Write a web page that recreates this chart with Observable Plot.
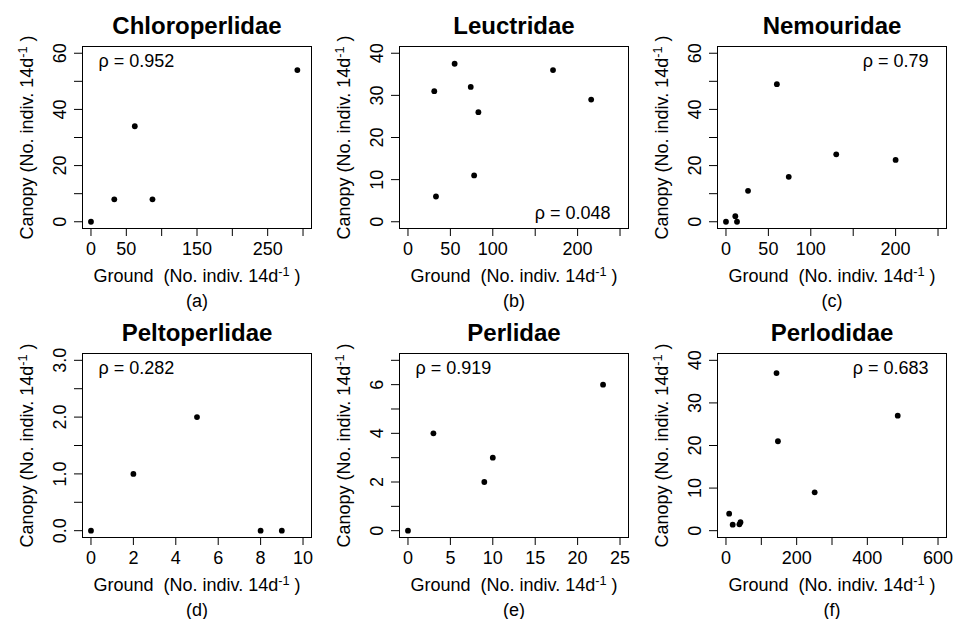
<!DOCTYPE html>
<html><head><meta charset="utf-8">
<script src="https://cdn.jsdelivr.net/npm/d3@7"></script>
<script src="https://cdn.jsdelivr.net/npm/@observablehq/plot@0.6"></script>
<style>
body{margin:0;background:#fff;}
#chart{position:relative;width:955px;height:619px;background:#fff;overflow:hidden;}
#chart svg{position:absolute;overflow:visible;}
</style></head><body><div id="chart"></div>
<script>
// ---- data ----
const families = ["Chloroperlidae","Leuctridae","Nemouridae","Peltoperlidae","Perlidae","Perlodidae"];
const panelLetters = ["(a)","(b)","(c)","(d)","(e)","(f)"];
const rhoValues = ["0.952","0.048","0.79","0.282","0.919","0.683"];
const rhoCorner = ["top-left","bottom-right","top-right","top-left","top-left","top-right"];

const groundChloroperlidae = [0,33,62,87,292];
const canopyChloroperlidae = [0,8,34,8,54];
const groundLeuctridae = [31,33,55,74,78,83,171,216];
const canopyLeuctridae = [31,6,37.5,32,11,26,36,29];
const groundNemouridae = [0,11,13,26,60,74,130,200];
const canopyNemouridae = [0,2,0,11,49,16,24,22];
const groundPeltoperlidae = [0,2,5,8,9];
const canopyPeltoperlidae = [0,1,2,0,0];
const groundPerlidae = [0,3,9,10,23];
const canopyPerlidae = [0,4,2,3,6];
const groundPerlodidae = [9,19,38,41,143,147,251,486];
const canopyPerlodidae = [4,1.4,1.5,2,37,21,9,27];

const xLimits = [[0,300],[0,250],[0,250],[0,10],[0,25],[0,600]];
const yLimits = [[0,60],[0,40],[0,60],[0,3],[0,7],[0,40]];
const xTicks = [[0,50,100,150,200,250,300],[0,50,100,150,200,250],[0,50,100,150,200,250],[0,2,4,6,8,10],[0,5,10,15,20,25],[0,100,200,300,400,500,600]];
const xTickLabels = [["0","50","","150","","250",""],["0","50","100","","200",""],["0","50","100","","200",""],["0","2","4","6","8","10"],["0","5","10","15","20","25"],["0","","200","","400","","600"]];
const yTicks = [[0,10,20,30,40,50,60],[0,10,20,30,40],[0,10,20,30,40,50,60],[0,0.5,1,1.5,2,2.5,3],[0,1,2,3,4,5,6,7],[0,10,20,30,40]];
const yTickLabels = [["0","","20","","40","","60"],["0","10","20","30","40"],["0","","20","","40","","60"],["0.0","","1.0","","2.0","","3.0"],["0","","2","","4","","6",""],["0","10","20","30","40"]];

const xTitle = "Ground \u00a0(No. indiv. 14d\u207b\u00b9 )";
const yTitle = "Canopy (No. indiv. 14d\u207b\u00b9 )";

// ---- layout ----
const grounds = [groundChloroperlidae,groundLeuctridae,groundNemouridae,groundPeltoperlidae,groundPerlidae,groundPerlodidae];
const canopies = [canopyChloroperlidae,canopyLeuctridae,canopyNemouridae,canopyPeltoperlidae,canopyPerlidae,canopyPerlodidae];
const colLeft = [0,317,635];
const rowTop = [0,307];
const frameH = [182,184];
const FONT = "'Liberation Sans', Arial, sans-serif";
const pad = ([lo,hi]) => [lo-0.04*(hi-lo), hi+0.04*(hi-lo)];
const ns = "http://www.w3.org/2000/svg";

function superscript(svg){
  for (const t of svg.querySelectorAll("text")) {
    const s = t.textContent; const k = s.indexOf("\u207b\u00b9");
    if (k < 0 || t.children.length) continue;
    t.textContent = "";
    const a = document.createElementNS(ns,"tspan"); a.textContent = s.slice(0,k);
    const b = document.createElementNS(ns,"tspan"); b.textContent = "-1";
    b.setAttribute("dy","-6"); b.setAttribute("font-size","12.8");
    const c = document.createElementNS(ns,"tspan"); c.textContent = s.slice(k+2);
    c.setAttribute("dy","6");
    t.append(a,b,c);
  }
}

const chart = document.getElementById("chart");
families.forEach((fam,i) => {
  const r = Math.floor(i/3), cidx = i%3;
  const H = 46 + frameH[r] + 80;
  const data = grounds[i].map((g,j) => ({ground:g, canopy:canopies[i][j]}));
  const xt = xTicks[i], yt = yTicks[i];
  const xl = xt.filter((d,j) => xTickLabels[i][j] !== "");
  const yl = yt.filter((d,j) => yTickLabels[i][j] !== "");
  const corner = rhoCorner[i];
  const isLeft = corner.endsWith("left"), isTop = corner.startsWith("top");
  const svg = Plot.plot({
    width: 318, height: H,
    marginLeft: 82, marginRight: 7, marginTop: 46, marginBottom: H - 46 - frameH[r],
    x: {domain: pad(xLimits[i]), axis: null},
    y: {domain: pad(yLimits[i]), axis: null},
    style: {fontFamily: FONT, fontSize: "18px", color: "#000", background: "transparent", overflow: "visible"},
    marks: [
      Plot.frame({stroke: "#000", strokeWidth: 1}),
      Plot.axisX({ticks: xt, tickSize: 8, tickFormat: () => "", label: null, stroke: "#000"}),
      Plot.axisY({ticks: yt, tickSize: 8, tickFormat: () => "", label: null, stroke: "#000"}),
      Plot.text(xl, {x: d => d, text: d => xTickLabels[i][xt.indexOf(d)], frameAnchor: "bottom", lineAnchor: "bottom", dy: 26.5, fill: "#000"}),
      Plot.text(yl, {y: d => d, text: d => yTickLabels[i][yt.indexOf(d)], frameAnchor: "left", rotate: -90, textAnchor: "middle", lineAnchor: "bottom", dx: -17, fill: "#000"}),
      Plot.dot(data, {x: "ground", y: "canopy", r: 2.9, fill: "#000", stroke: null}),
      Plot.text([fam], {text: d => d, frameAnchor: "top", lineAnchor: "bottom", dy: -13, fontWeight: "bold", fontSize: 24, fill: "#000"}),
      Plot.text([xTitle], {text: d => d, frameAnchor: "bottom", lineAnchor: "bottom", dy: 53.3, fill: "#000"}),
      Plot.text([yTitle], {text: d => d, frameAnchor: "left", rotate: -90, textAnchor: "middle", lineAnchor: "bottom", dx: -50, fill: "#000"}),
      Plot.text([panelLetters[i]], {text: d => d, frameAnchor: "bottom", lineAnchor: "bottom", dy: 78, fill: "#000"}),
      Plot.text([`\u03c1 = ${rhoValues[i]}`], {text: d => d, frameAnchor: corner, textAnchor: isLeft ? "start" : "end", lineAnchor: "bottom", dx: isLeft ? 16 : -18, dy: isTop ? 20 : -10, fill: "#000"})
    ]
  });
  superscript(svg);
  svg.style.left = colLeft[cidx] + "px";
  svg.style.top = rowTop[r] + "px";
  chart.appendChild(svg);
});
</script></body></html>
